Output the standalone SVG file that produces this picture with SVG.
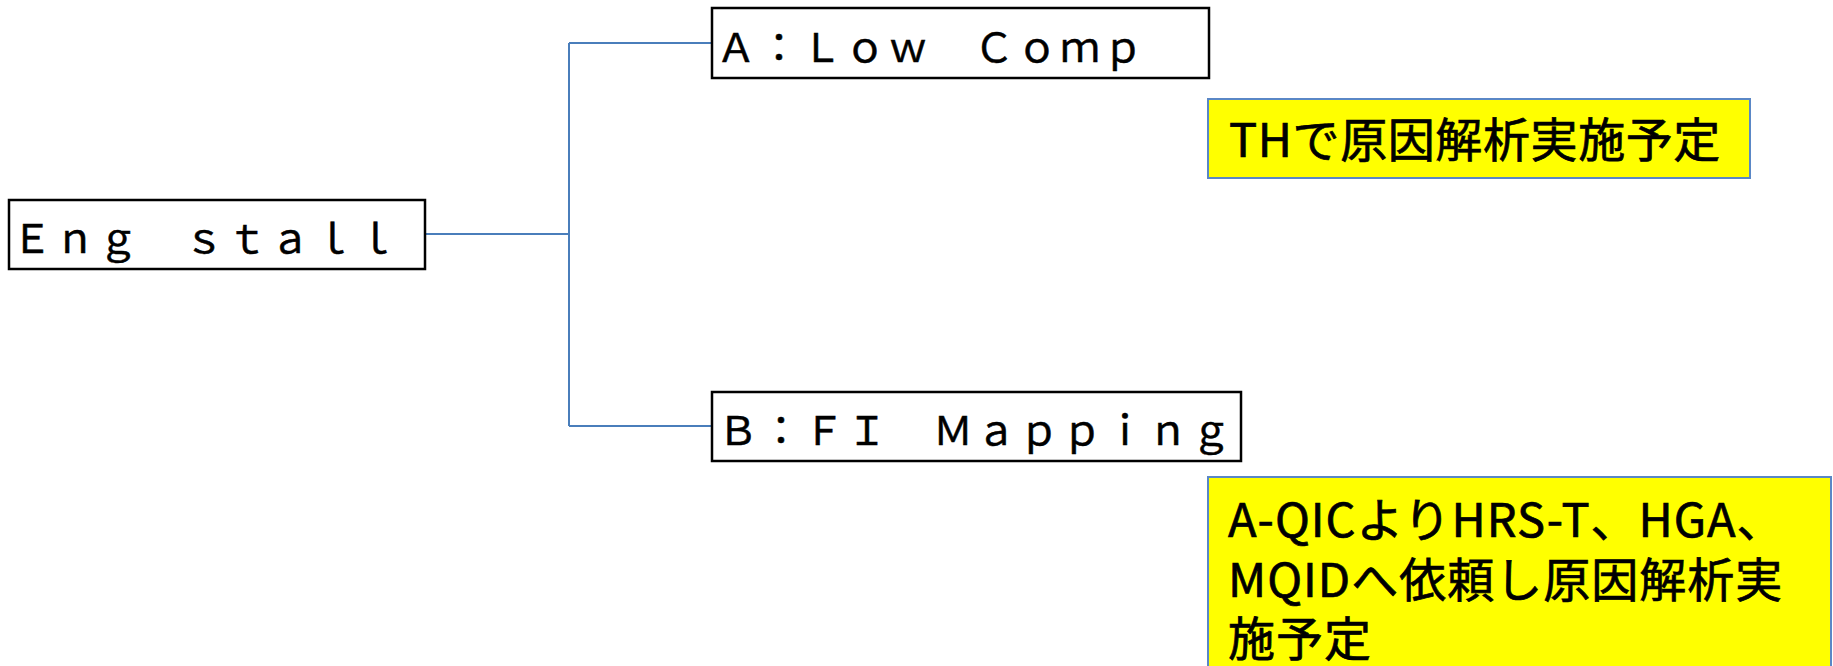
<svg xmlns="http://www.w3.org/2000/svg" width="1833" height="666" viewBox="0 0 1833 666">
<style>
.box{fill:#ffffff;stroke:#000000;stroke-width:2.5}
.note{fill:#ffff00;stroke:#5a87c6;stroke-width:2}
.lbl{font-family:"Noto Sans CJK JP","Noto Sans",sans-serif;font-size:40px;letter-spacing:3px;fill:#000;stroke:#000;stroke-width:0.5}
.ntx{font-family:"Noto Sans CJK JP","Noto Sans",sans-serif;font-size:47px;letter-spacing:1px;fill:#000;stroke:#000;stroke-width:0.7}
.con{fill:none;stroke:#4a7ebb;stroke-width:2}
</style>
<rect width="1833" height="666" fill="#ffffff"/>
<g id="connectors">
<path class="con" d="M425,234 H569"/>
<path class="con" d="M569,43 V426"/>
<path class="con" d="M569,43 H712"/>
<path class="con" d="M569,426 H712"/>
</g>
<g id="node-root">
<rect class="box" x="9" y="200" width="416" height="69"/>
<text class="lbl" x="12" y="253">Ｅｎｇ　ｓｔａｌｌ</text>
</g>
<g id="node-a">
<rect class="box" x="712" y="8" width="497" height="70"/>
<text class="lbl" x="716" y="62">Ａ：Ｌｏｗ　Ｃｏｍｐ</text>
</g>
<g id="node-b">
<rect class="box" x="712" y="392" width="529" height="69"/>
<text class="lbl" x="718" y="445">Ｂ：ＦＩ　Ｍａｐｐｉｎｇ</text>
</g>
<g id="note-a">
<rect class="note" x="1208" y="99" width="542" height="79"/>
<text class="ntx" x="1229" y="157" style="letter-spacing:0.6px">THで原因解析実施予定</text>
</g>
<g id="note-b">
<rect class="note" x="1208" y="477" width="623" height="220"/>
<text class="ntx" x="1228" y="537">A-QICよりHRS-T、HGA、</text>
<text class="ntx" x="1228" y="597">MQIDへ依頼し原因解析実</text>
<text class="ntx" x="1228" y="656">施予定</text>
</g>
</svg>
